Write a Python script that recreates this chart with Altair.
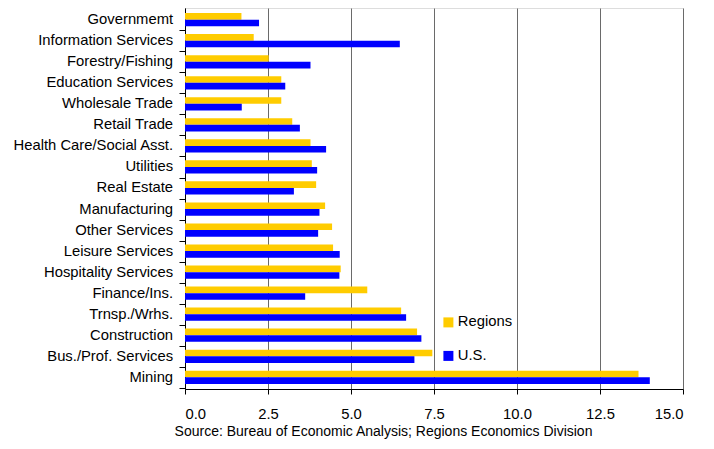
import altair as alt
import pandas as pd

industries = [
    "Governmemt", "Information Services", "Forestry/Fishing", "Education Services",
    "Wholesale Trade", "Retail Trade", "Health Care/Social Asst.", "Utilities",
    "Real Estate", "Manufacturing", "Other Services", "Leisure Services",
    "Hospitality Services", "Finance/Ins.", "Trnsp./Wrhs.", "Construction",
    "Bus./Prof. Services", "Mining",
]
regions = [1.70, 2.07, 2.52, 2.90, 2.90, 3.23, 3.78, 3.82, 3.95, 4.22,
           4.43, 4.46, 4.69, 5.49, 6.51, 6.99, 7.45, 13.66]
us = [2.23, 6.47, 3.78, 3.02, 1.71, 3.46, 4.25, 3.98, 3.28, 4.05,
      4.01, 4.66, 4.65, 3.62, 6.66, 7.12, 6.91, 14.00]
series_names = ["Regions", "U.S."]
series_colors = ["#FFCC00", "#0000FF"]
x_ticks = [0, 2.5, 5, 7.5, 10, 12.5, 15]
source_text = "Source: Bureau of Economic Analysis; Regions Economics Division"

rows = []
for i, ind in enumerate(industries):
    rows.append({"industry": ind, "series": series_names[0], "value": regions[i]})
    rows.append({"industry": ind, "series": series_names[1], "value": us[i]})
df = pd.DataFrame(rows)

FONT = "Liberation Sans"

chart = alt.Chart(df).mark_bar().encode(
    y=alt.Y(
        "industry:N", sort=industries,
        scale=alt.Scale(paddingInner=0.37, paddingOuter=0.24),
        axis=alt.Axis(
            title=None, labelFont=FONT, labelFontSize=14.8, labelColor="black",
            domainColor="black", tickColor="black", tickSize=6, labelPadding=6.4,
            bandPosition=1, tickOffset=3.95, labelOffset=-3.95, grid=False,
            labelLimit=300,
        ),
    ),
    yOffset=alt.YOffset("series:N", sort=series_names,
                        scale=alt.Scale(paddingInner=0, paddingOuter=0)),
    x=alt.X(
        "value:Q",
        scale=alt.Scale(domain=[0, 15], nice=False),
        axis=alt.Axis(
            values=x_ticks, format=".1f", title=source_text,
            titleFont=FONT, titleFontSize=14, titleFontWeight="normal", titleColor="black",
            titleX=198, titleY=46, titleAlign="center", titleBaseline="alphabetic",
            labelFont=FONT, labelFontSize=14.8, labelColor="black", labelPadding=12,
            tickSize=5, tickColor="black", domainColor="black",
            grid=True, gridColor="#6a6a6a", gridWidth=1,
        ),
    ),
    color=alt.Color(
        "series:N", sort=series_names,
        scale=alt.Scale(domain=series_names, range=series_colors),
        legend=alt.Legend(
            title=None, orient="none", legendX=256, legendY=307,
            symbolType="square", symbolSize=100, symbolStrokeWidth=0,
            labelFont=FONT, labelFontSize=14.8, labelColor="black",
            rowPadding=17.5, padding=0, labelOffset=2,
        ),
    ),
).properties(
    width=498, height=381,
    padding={"left": 177, "top": 0, "right": 15, "bottom": 51},
    autosize=alt.AutoSizeParams(type="none"),
).configure_view(
    stroke="#7a7a7a", strokeWidth=1
).configure(background="white")

chart.save("out.html", embed_options={"renderer": "svg", "actions": False})
